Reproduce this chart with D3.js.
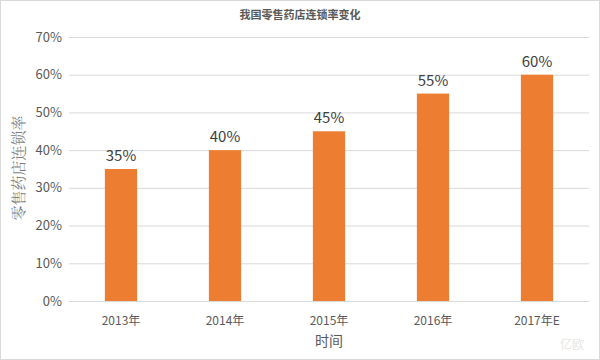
<!DOCTYPE html>
<html>
<head>
<meta charset="utf-8">
<script src="https://cdn.jsdelivr.net/npm/d3@7"></script>
<style>
body{margin:0;background:#fff;}
svg{display:block;font-family:"Noto Sans CJK SC","Microsoft YaHei",sans-serif;}
</style>
</head>
<body>
<script>
// data
const years=["2013年","2014年","2015年","2016年","2017年E"];
const rates=[35,40,45,55,60];
const yTicks=[0,10,20,30,40,50,60,70];

const W=600,H=360;
const m={left:69,right:11,top:37,bottom:59};

let svg=d3.select("body").append("svg").attr("width",W).attr("height",H);
svg.append("rect").attr("x",0.5).attr("y",0.5).attr("width",W-1).attr("height",H-1)
    .attr("fill","#fff").attr("stroke","#d9d9d9");

let x=d3.scaleBand().domain(years).range([m.left,W-m.right]).paddingInner(0.69).paddingOuter(0.345);
let y=d3.scaleLinear().domain([0,70]).range([H-m.bottom,m.top]);

// gridlines
svg.append("g").selectAll("line").data(yTicks).enter().append("line")
    .attr("x1",m.left).attr("x2",W-m.right)
    .attr("y1",d=>y(d)+0.5).attr("y2",d=>y(d)+0.5)
    .attr("stroke","#d9d9d9").attr("stroke-width",1);

// y tick labels
svg.append("g").selectAll("text").data(yTicks).enter().append("text")
    .attr("x",m.left-7).attr("y",d=>y(d)).attr("dy","0.35em")
    .attr("text-anchor","end").attr("font-size",13).attr("fill","#595959")
    .text(d=>d+"%");

// bars
svg.append("g").selectAll("rect").data(rates).enter().append("rect")
    .attr("x",(d,i)=>x(years[i])).attr("width",x.bandwidth())
    .attr("y",d=>y(d)).attr("height",d=>y(0)-y(d))
    .attr("fill","#ed7d31");

// value labels
svg.append("g").selectAll("text").data(rates).enter().append("text")
    .attr("x",(d,i)=>x(years[i])+x.bandwidth()/2).attr("y",d=>y(d)-8)
    .attr("text-anchor","middle").attr("font-size",15).attr("fill","#404040")
    .text(d=>d+"%");

// x tick labels
svg.append("g").selectAll("text").data(years).enter().append("text")
    .attr("x",d=>x(d)+x.bandwidth()/2).attr("y",325)
    .attr("text-anchor","middle").attr("font-size",12).attr("fill","#595959")
    .text(d=>d);

// titles
svg.append("text").attr("x",W/2-0).attr("y",19).attr("text-anchor","middle")
    .attr("font-size",11).attr("font-weight","bold").attr("fill","#595959")
    .text("我国零售药店连锁率变化");
svg.append("text").attr("x",329).attr("y",346).attr("text-anchor","middle")
    .attr("font-size",14).attr("fill","#595959").text("时间");
svg.append("text").attr("transform","translate(24,168) rotate(-90)")
    .attr("text-anchor","middle").attr("font-size",15).attr("fill","#7f7f7f")
    .style("font-family","'Noto Serif CJK SC','Noto Sans CJK SC',serif")
    .text("零售药店连锁率");

// watermark
svg.append("text").attr("x",572).attr("y",349).attr("text-anchor","middle")
    .attr("font-size",12).attr("fill","#e6e6e6").text("亿欧");
</script>
</body>
</html>
